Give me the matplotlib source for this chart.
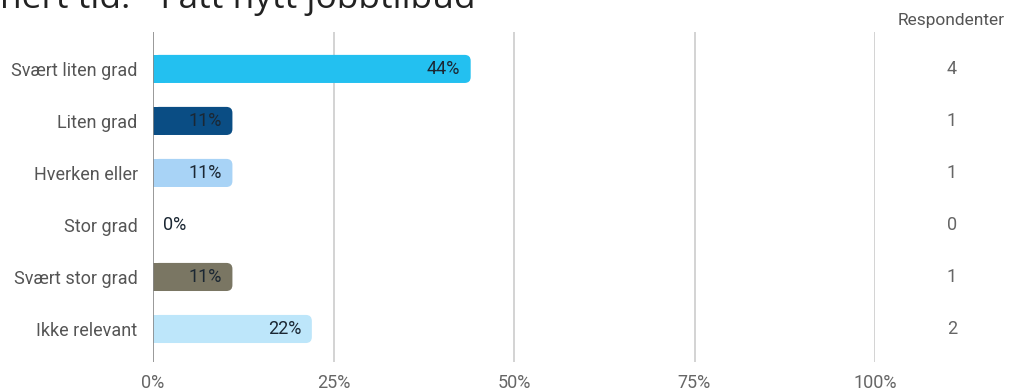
import matplotlib
matplotlib.use("Agg")
import matplotlib.pyplot as plt
from matplotlib.patches import FancyBboxPatch, Rectangle
from matplotlib.transforms import blended_transform_factory

categories = ["Svært liten grad", "Liten grad", "Hverken eller", "Stor grad", "Svært stor grad", "Ikke relevant"]
percent = [44, 11, 11, 0, 11, 22]
respondents = [4, 1, 1, 0, 1, 2]
colors = ["#23C0F0", "#0A4D84", "#A8D3F6", "#2E9BD6", "#7A7663", "#BDE6FA"]
xticks = [0, 25, 50, 75, 100]
xticklabels = ["0%", "25%", "50%", "75%", "100%"]
title_text = "nert tid: - Fått nytt jobbtilbud"
column_header = "Respondenter"

plt.rcParams['font.family'] = ['Roboto', 'DejaVu Sans']

W, H = 1011, 392
fig = plt.figure(figsize=(W / 100, H / 100), dpi=100)
left_px, right_px, top_px, bottom_px = 153, 875, 32, 362
ax = fig.add_axes([left_px / W, 1 - bottom_px / H, (right_px - left_px) / W, (bottom_px - top_px) / H])

ax.set_xlim(0, 100)
ax.set_ylim(5.635, -0.71)

bar_h = 0.54
xu_per_px = 100 / (right_px - left_px)
yu_per_px = (5.635 + 0.71) / (bottom_px - top_px)
r_px = 6
for i, (v, c) in enumerate(zip(percent, colors)):
    if v <= 0:
        continue
    rr = r_px * xu_per_px
    p = FancyBboxPatch((0, i - bar_h / 2), v, bar_h,
                       boxstyle=f"round,pad=0,rounding_size={rr}",
                       mutation_aspect=yu_per_px / xu_per_px,
                       facecolor=c, edgecolor="none", zorder=3)
    ax.add_patch(p)
    ax.add_patch(Rectangle((0, i - bar_h / 2), min(v / 2, 2 * rr), bar_h,
                           facecolor=c, edgecolor="none", zorder=3))

fs = 13
for i, v in enumerate(percent):
    if v > 0:
        ax.annotate(f"{v}%", xy=(v, i), xytext=(-7.5, 0), textcoords="offset points",
                    ha="right", va="center", fontsize=fs, color="#1B2733", zorder=4)
    else:
        ax.annotate(f"{v}%", xy=(0, i), xytext=(7.2, 0), textcoords="offset points",
                    ha="left", va="center", fontsize=fs, color="#1B2733", zorder=4)

ax.set_yticks(range(len(categories)))
ax.set_yticklabels(categories, fontsize=fs, color="#555555")
ax.set_xticks(xticks)
ax.set_xticklabels(xticklabels, fontsize=fs, color="#666666")
ax.tick_params(axis="both", length=0)
ax.tick_params(axis="y", pad=11)
ax.tick_params(axis="x", pad=9)

for x in xticks[1:]:
    ax.axvline(x, color="#CCCCCC", lw=1.2, zorder=1)
ax.axvline(0, color="#888888", lw=1.2, zorder=5)
for s in ax.spines.values():
    s.set_visible(False)

# Respondents column
trans = blended_transform_factory(fig.transFigure, ax.transData)
for i, n in enumerate(respondents):
    ax.text(952 / W, i, str(n), transform=trans,
            ha="center", va="center", fontsize=fs, color="#666666")
fig.text(951 / W, 1 - 21 / H, column_header, ha="center", va="center", fontsize=12.5, color="#555555")

fig.text(0, 1 - 8 / H, title_text, ha="left", va="baseline", fontsize=25.5,
         family=["Open Sans", "DejaVu Sans"], color="#222222")

fig.savefig("out.png", dpi=100, facecolor="white")
